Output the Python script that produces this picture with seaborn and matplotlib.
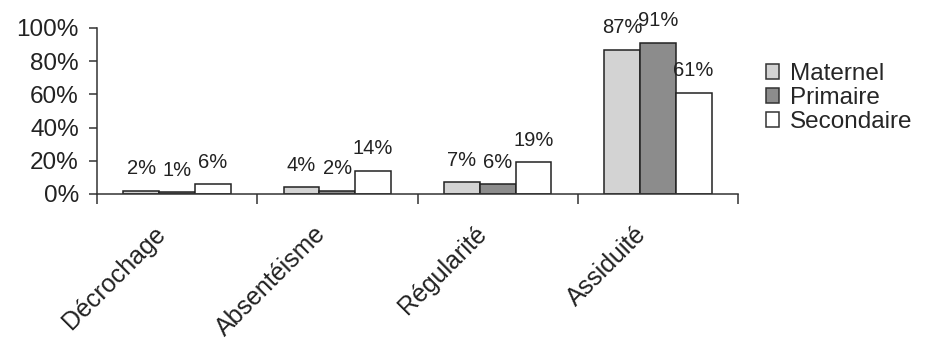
import matplotlib
matplotlib.use("Agg")
import matplotlib.pyplot as plt
from matplotlib.patches import Patch
import seaborn as sns
import pandas as pd

categories = ["Décrochage", "Absentéisme", "Régularité", "Assiduité"]
levels = ["Maternel", "Primaire", "Secondaire"]
maternel = [2, 4, 7, 87]
primaire = [1, 2, 6, 91]
secondaire = [6, 14, 19, 61]
yticks = [0, 20, 40, 60, 80, 100]
colors = ["#d3d3d3", "#8c8c8c", "#ffffff"]

rows = []
for lvl, vals in zip(levels, [maternel, primaire, secondaire]):
    for c, v in zip(categories, vals):
        rows.append({"cat": c, "level": lvl, "val": v})
df = pd.DataFrame(rows)

sns.set_theme(style="white")
plt.rcParams["font.family"] = ["Liberation Sans", "DejaVu Sans"]

fig = plt.figure(figsize=(9.3, 3.43), dpi=100)
ax = fig.add_axes([97/930, 1-194/343, (738-97)/930, (194-28)/343])

sns.barplot(data=df, x="cat", y="val", hue="level", order=categories,
            hue_order=levels, palette=colors, width=0.67, gap=0,
            edgecolor="#222222", linewidth=1.1, saturation=1, ax=ax,
            legend=False, errorbar=None)

for cont, vals in zip(ax.containers, [maternel, primaire, secondaire]):
    ax.bar_label(cont, labels=[f"{v}%" for v in vals], padding=9,
                 fontsize=14.5, color="#222222")

ax.set_ylim(0, 100)
ax.set_xlim(-0.5, 3.5)
ax.set_yticks(yticks)
ax.set_yticklabels([f"{t}%" for t in yticks], fontsize=17.5, color="#222222")
ax.set_xlabel("")
ax.set_ylabel("")

# tick marks at category boundaries, labels drawn rotated under each category
ax.set_xticks([-0.5, 0.5, 1.5, 2.5, 3.5])
ax.set_xticklabels([])
xt = ax.get_xaxis_transform()
for i, c in enumerate(categories):
    ax.annotate(c, xy=(i, 0), xycoords=xt, xytext=(-10.8, -26),
                textcoords="offset points", rotation=45, ha="right",
                va="center", rotation_mode="anchor", fontsize=18,
                color="#222222", annotation_clip=False)

ax.tick_params(axis="x", which="major", direction="out", length=7,
               width=1.1, color="#333333", bottom=True)
ax.tick_params(axis="y", direction="out", length=6, width=1.1,
               color="#333333", pad=7, left=True)

for s in ["top", "right"]:
    ax.spines[s].set_visible(False)
for s in ["left", "bottom"]:
    ax.spines[s].set_color("#333333")
    ax.spines[s].set_linewidth(1.1)

handles = [Patch(facecolor=c, edgecolor="#333333", linewidth=1.1) for c in colors]
fig.legend(handles, levels, loc="upper left", bbox_to_anchor=(766/930, 1-63/343),
           frameon=False, fontsize=17.5, handlelength=0.55, handleheight=0.55,
           handletextpad=0.45, labelspacing=0.08, borderpad=0, borderaxespad=0)

fig.savefig("out.png", dpi=100)
